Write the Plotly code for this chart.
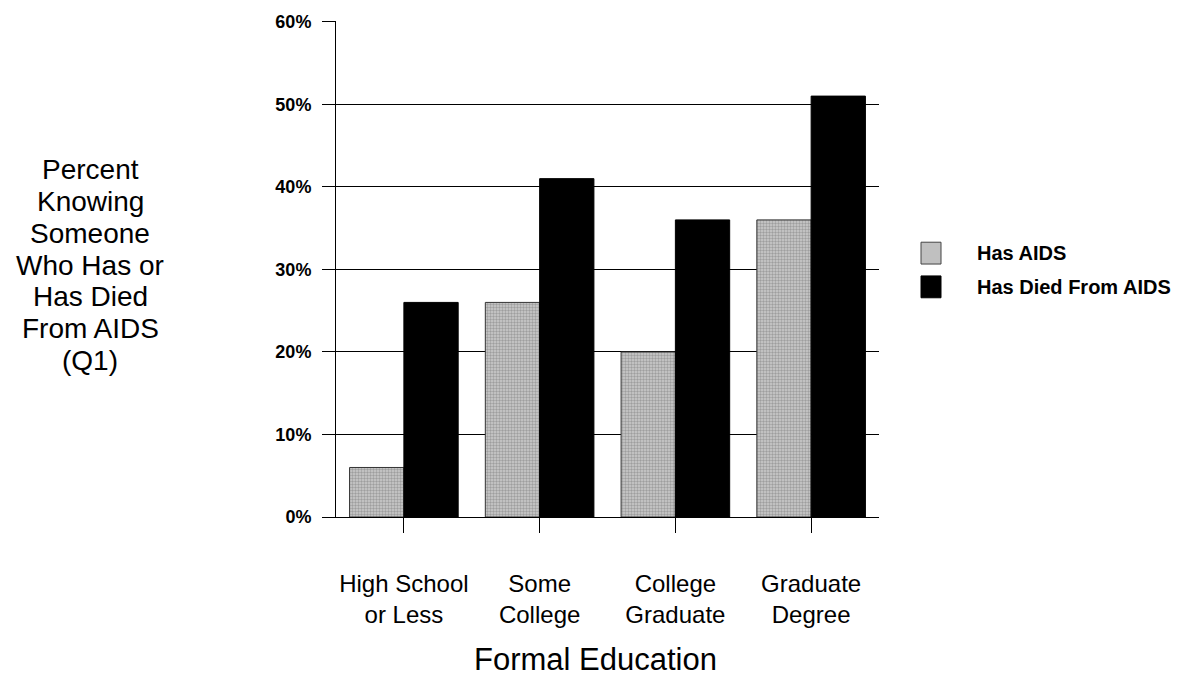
import plotly.graph_objects as go

# Survey results by level of formal education
categories = ["High School<br>or Less", "Some<br>College", "College<br>Graduate", "Graduate<br>Degree"]
has_aids = [6, 26, 20, 36]
died_from_aids = [26, 41, 36, 51]
series_names = ["Has AIDS", "Has Died From AIDS"]
y_ticks = [0, 10, 20, 30, 40, 50, 60]
y_tick_labels = ["0%", "10%", "20%", "30%", "40%", "50%", "60%"]
y_title_lines = ["Percent", "Knowing", "Someone", "Who Has or", "Has Died", "From AIDS", "(Q1)"]
x_title = "Formal Education"

FONT = "Liberation Sans, Arial, sans-serif"
W, H = 1197, 680
M_L, M_R, M_T, M_B = 336, 318, 17, 163
PLOT_W = W - M_L - M_R
PLOT_H = H - M_T - M_B

GRAY = "#c0c0c0"


def px_x(px):
    """Pixel column -> paper x."""
    return (px - M_L) / PLOT_W


def px_y(py):
    """Pixel row -> paper y."""
    return 1 - (py - M_T) / PLOT_H


fig = go.Figure()
fig.add_trace(go.Bar(
    x=categories, y=has_aids, name=series_names[0],
    marker=dict(
        color=GRAY,
        line=dict(color="#333333", width=1),
        pattern=dict(shape=".", fgcolor="#707070", bgcolor="#cdcdcd", size=3, solidity=0.5),
    ),
))
fig.add_trace(go.Bar(
    x=categories, y=died_from_aids, name=series_names[1],
    marker=dict(color="#000000", line=dict(color="#000000", width=1)),
))

fig.update_layout(
    width=W, height=H,
    margin=dict(l=M_L, r=M_R, t=M_T, b=M_B),
    paper_bgcolor="white", plot_bgcolor="white",
    barmode="group", bargap=0.2, bargroupgap=0,
    font=dict(family=FONT, color="black"),
    showlegend=False,
)

fig.update_xaxes(
    type="category",
    showline=True, linecolor="black", linewidth=1,
    ticks="outside", ticklen=15, tickcolor="black", tickwidth=1,
    tickfont=dict(size=24, family=FONT),
    ticklabelstandoff=30,
    showgrid=False,
)
fig.update_yaxes(
    range=[0, 60.1],
    tickvals=y_ticks, ticktext=y_tick_labels,
    showline=True, linecolor="black", linewidth=1,
    ticks="outside", ticklen=13, tickcolor="black", tickwidth=1,
    tickfont=dict(size=18, family=FONT, weight="bold"),
    ticklabelstandoff=7,
    showgrid=True, gridcolor="black", gridwidth=1,
    zeroline=False,
)

# Horizontal-axis caption
fig.add_annotation(
    text=x_title, xref="paper", yref="paper",
    x=px_x(595), y=px_y(661), xanchor="center", yanchor="middle",
    showarrow=False, font=dict(size=31, family=FONT, color="black"),
)

# Multi-line vertical-axis caption, one annotation per line for tight spacing
first_line_px, line_step_px = 167, 32
for i, line in enumerate(y_title_lines):
    fig.add_annotation(
        text=line, xref="paper", yref="paper",
        x=px_x(90), y=px_y(first_line_px + i * line_step_px),
        xanchor="center", yanchor="middle", showarrow=False,
        font=dict(size=28, family=FONT, color="black"),
    )

# Legend: large square swatches with bold labels
legend_rows = [(251, GRAY, "#444444"), (285, "#000000", "#000000")]
for (cy, fill, edge), name in zip(legend_rows, series_names):
    fig.add_shape(
        type="rect", xref="paper", yref="paper",
        x0=px_x(921), x1=px_x(941), y0=px_y(cy - 11), y1=px_y(cy + 11),
        fillcolor=fill, line=dict(color=edge, width=1),
    )
    fig.add_annotation(
        text=name, xref="paper", yref="paper",
        x=px_x(975), y=px_y(cy), xanchor="left", yanchor="middle",
        showarrow=False, font=dict(size=20, family=FONT, color="black", weight="bold"),
    )

fig.write_html("out.html")
